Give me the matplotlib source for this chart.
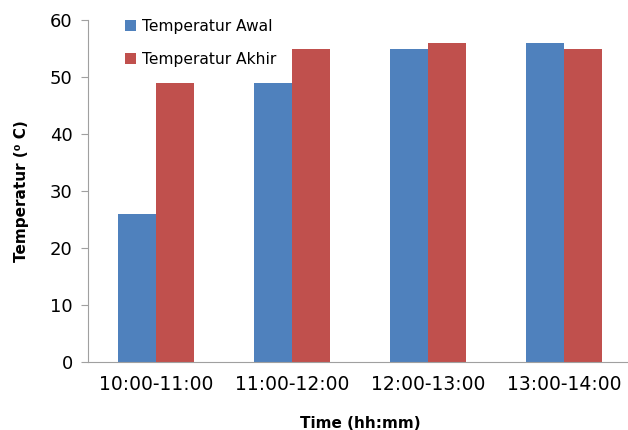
import matplotlib
matplotlib.use("Agg")
import matplotlib.pyplot as plt
import numpy as np

categories = ["10:00-11:00", "11:00-12:00", "12:00-13:00", "13:00-14:00"]
awal = [26, 49, 55, 56]
akhir = [49, 55, 56, 55]
series_names = ["Temperatur Awal", "Temperatur Akhir"]

plt.rcParams['font.family'] = ['DejaVu Sans']

fig = plt.figure(figsize=(6.28, 4.30), dpi=100)
ax = fig.add_axes([88/628, (430-362)/430, 544/628, 342/430])

x = np.arange(len(categories))
w = 0.283
ax.bar(x - w/2, awal, width=w, color="#4F81BD", label=series_names[0])
ax.bar(x + w/2, akhir, width=w, color="#C0504D", label=series_names[1])

ax.set_xlim(-0.5, 3.5)
ax.set_ylim(0, 60)
ax.set_yticks(range(0, 61, 10))
ax.set_xticks(x)
ax.set_xticklabels(categories, fontsize=13.5)
ax.tick_params(axis='y', labelsize=13, length=5, color='#A0A0A0', pad=6)
ax.tick_params(axis='x', length=0, pad=9)

for s in ['top', 'right']:
    ax.spines[s].set_visible(False)
for s in ['left', 'bottom']:
    ax.spines[s].set_color('#A0A0A0')

ax.set_ylabel("Temperatur (⁰ C)", fontsize=11, fontweight='bold', labelpad=15)
ax.set_xlabel("Time (hh:mm)", fontsize=11, fontweight='bold', labelpad=16)

ax.legend(loc='upper left', bbox_to_anchor=(0.068, 1.003), frameon=False,
          fontsize=11.2, handlelength=0.72, handleheight=0.72, handletextpad=0.4,
          labelspacing=1.15, borderpad=0, borderaxespad=0)

fig.savefig("out.png", dpi=100)
